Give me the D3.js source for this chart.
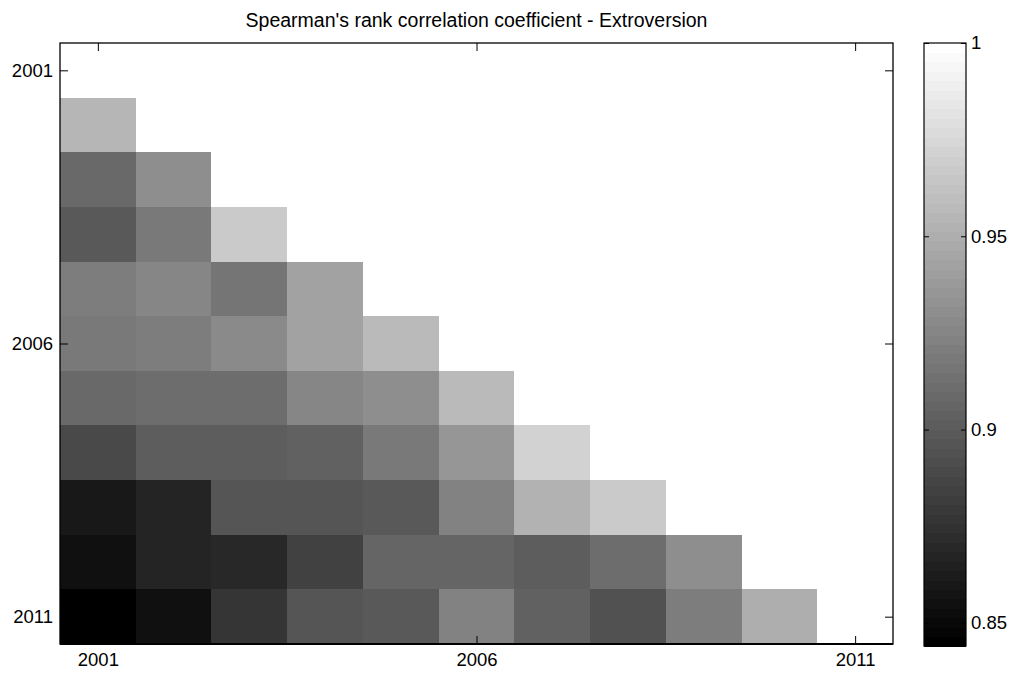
<!DOCTYPE html>
<html>
<head>
<meta charset="utf-8">
<script src="https://cdn.jsdelivr.net/npm/d3@7"></script>
<style>
  body { margin: 0; background: #fff; }
  text { font-family: "Liberation Sans", Arial, sans-serif; fill: #000; }
</style>
</head>
<body>
<svg id="chart" width="1013" height="675"></svg>
<script>
// years on both axes
const years = [2001, 2002, 2003, 2004, 2005, 2006, 2007, 2008, 2009, 2010, 2011];
const yearTicks = [2001, 2006, 2011];

// lower triangle of the correlation matrix, row i = year i vs the earlier years
const rho2002 = [0.954];
const rho2003 = [0.908, 0.931];
const rho2004 = [0.900, 0.918, 0.968];
const rho2005 = [0.920, 0.925, 0.915, 0.943];
const rho2006 = [0.919, 0.920, 0.927, 0.943, 0.957];
const rho2007 = [0.908, 0.911, 0.911, 0.925, 0.931, 0.957];
const rho2008 = [0.889, 0.902, 0.901, 0.903, 0.918, 0.935, 0.973];
const rho2009 = [0.861, 0.867, 0.897, 0.896, 0.898, 0.923, 0.953, 0.966];
const rho2010 = [0.855, 0.867, 0.870, 0.883, 0.907, 0.906, 0.901, 0.911, 0.930];
const rho2011 = [0.844, 0.854, 0.878, 0.896, 0.899, 0.924, 0.904, 0.895, 0.920, 0.951];

const colorTicks = [0.85, 0.9, 0.95, 1];
const colorMin = 0.844, colorMax = 1;

const rows = [[], rho2002, rho2003, rho2004, rho2005, rho2006, rho2007, rho2008, rho2009, rho2010, rho2011];

// flatten into cells, diagonal = 1
const cells = [];
rows.forEach((r, i) => {
  r.forEach((v, j) => cells.push({ row: years[i], col: years[j], value: v }));
  cells.push({ row: years[i], col: years[i], value: 1 });
});

const svg = d3.select("#chart");
const plot = { left: 60, right: 893, top: 43, bottom: 644 };
const cbar = { left: 924, right: 966, top: 43, bottom: 646 };

const x = d3.scaleBand().domain(years).range([plot.left, plot.right]);
const y = d3.scaleBand().domain(years).range([plot.top, plot.bottom]);

// matlab style gray colormap with 64 levels
const grays = d3.range(64).map(i => { const g = Math.round(i / 63 * 255); return d3.rgb(g, g, g).formatHex(); });
const color = d3.scaleQuantize().domain([colorMin, colorMax]).range(grays);

// cells
svg.append("g")
  .selectAll("rect")
  .data(cells)
  .enter().append("rect")
  .attr("x", d => x(d.col))
  .attr("y", d => y(d.row))
  .attr("width", x.bandwidth() + 0.5)
  .attr("height", y.bandwidth() + 0.5)
  .attr("fill", d => color(d.value))
  .attr("shape-rendering", "crispEdges");

// axes, ticks pointing inward
const tickAt = v => x(v) + x.bandwidth() / 2;
const xc = d3.scaleLinear().domain([years[0], years[years.length - 1]]).range([tickAt(years[0]), tickAt(years[years.length - 1])]);
const yc = d3.scaleLinear().domain([years[0], years[years.length - 1]]).range([y(years[0]) + y.bandwidth() / 2, y(years[years.length - 1]) + y.bandwidth() / 2]);

const fmt = d3.format("d");
const bottomAxis = svg.append("g")
  .attr("transform", `translate(0,${plot.bottom})`)
  .call(d3.axisBottom(xc).tickValues(yearTicks).tickFormat(fmt).tickSizeInner(-8).tickSizeOuter(0).tickPadding(9));
const leftAxis = svg.append("g")
  .attr("transform", `translate(${plot.left},0)`)
  .call(d3.axisLeft(yc).tickValues(yearTicks).tickFormat(fmt).tickSizeInner(-8).tickSizeOuter(0).tickPadding(7));
const topAxis = svg.append("g")
  .attr("transform", `translate(0,${plot.top})`)
  .call(d3.axisTop(xc).tickValues(yearTicks).tickFormat("").tickSizeInner(-8).tickSizeOuter(0));
const rightAxis = svg.append("g")
  .attr("transform", `translate(${plot.right},0)`)
  .call(d3.axisRight(yc).tickValues(yearTicks).tickFormat("").tickSizeInner(-8).tickSizeOuter(0));

[bottomAxis, leftAxis, topAxis, rightAxis].forEach(a => {
  a.select(".domain").remove();
  a.selectAll("line").attr("stroke", "#000").attr("stroke-width", 1);
  a.selectAll("text").style("font-size", "18.5px").attr("fill", "#000");
});

// box around plot
svg.append("rect")
  .attr("x", plot.left).attr("y", plot.top)
  .attr("width", plot.right - plot.left).attr("height", plot.bottom - plot.top)
  .attr("fill", "none").attr("stroke", "#000").attr("stroke-width", 1.3);
svg.append("line")
  .attr("x1", plot.left).attr("x2", plot.right)
  .attr("y1", plot.bottom).attr("y2", plot.bottom)
  .attr("stroke", "#000").attr("stroke-width", 2);

// colorbar
const cy = d3.scaleLinear().domain([colorMin, colorMax]).range([cbar.bottom, cbar.top]);
const step = (colorMax - colorMin) / 64;
svg.append("g")
  .selectAll("rect")
  .data(grays)
  .enter().append("rect")
  .attr("x", cbar.left)
  .attr("width", cbar.right - cbar.left)
  .attr("y", (d, i) => cy(colorMin + (i + 1) * step))
  .attr("height", (d, i) => cy(colorMin + i * step) - cy(colorMin + (i + 1) * step) + 0.5)
  .attr("fill", d => d)
  .attr("shape-rendering", "crispEdges");

const cbRight = svg.append("g")
  .attr("transform", `translate(${cbar.right},0)`)
  .call(d3.axisRight(cy).tickValues(colorTicks).tickFormat(d3.format("")).tickSizeInner(-5).tickSizeOuter(0).tickPadding(5));
const cbLeft = svg.append("g")
  .attr("transform", `translate(${cbar.left},0)`)
  .call(d3.axisLeft(cy).tickValues(colorTicks).tickFormat("").tickSizeInner(-5).tickSizeOuter(0));
[cbRight, cbLeft].forEach(a => {
  a.select(".domain").remove();
  a.selectAll("line").attr("stroke", "#000");
  a.selectAll("text").style("font-size", "18.5px").attr("fill", "#000");
});
svg.append("rect")
  .attr("x", cbar.left).attr("y", cbar.top)
  .attr("width", cbar.right - cbar.left).attr("height", cbar.bottom - cbar.top)
  .attr("fill", "none").attr("stroke", "#000").attr("stroke-width", 1.2);

// title
svg.append("text")
  .attr("x", (plot.left + plot.right) / 2)
  .attr("y", 27)
  .attr("text-anchor", "middle")
  .style("font-size", "19.5px")
  .text("Spearman's rank correlation coefficient - Extroversion");
</script>
</body>
</html>
